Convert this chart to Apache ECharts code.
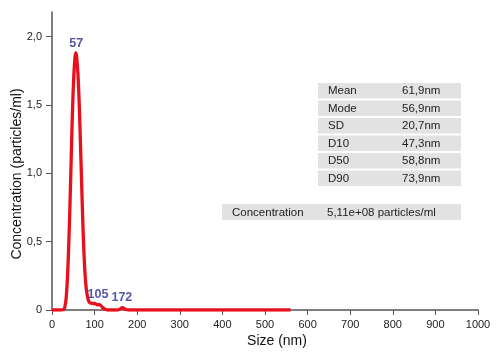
<!DOCTYPE html>
<html><head><meta charset="utf-8">
<script src="https://cdn.jsdelivr.net/npm/echarts@6/dist/echarts.min.js"></script>
<style>html,body{margin:0;padding:0;background:#fff}#c{width:500px;height:352px}</style>
</head><body><div id="c"></div>
<script>
// Size distribution curve (nm, concentration in 1e? particles/ml)
const sizeNm = [0,20,28,30,33,36,39,42,45,48,51,54,56,58,61,64,67,70,73,76,79,82,85,88,92,97,102,106,110,114,118,122,126,130,155,160,165,170,175,180,560];
const conc   = [0,0,0.005,0.02,0.08,0.22,0.45,0.75,1.1,1.45,1.7,1.85,1.88,1.85,1.72,1.5,1.2,0.88,0.58,0.35,0.2,0.12,0.075,0.055,0.05,0.048,0.045,0.038,0.04,0.035,0.02,0.01,0.004,0,0,0.008,0.018,0.01,0.002,0,0];
// Peak annotations
const peakX = [57,108,164];
const peakY = [1.88,0.04,0.018];
const peakLabels = ['57','105','172'];
// Y ticks
const yTicks = [0,0.5,1,1.5,2];
// Statistics table
const statNames = ['Mean','Mode','SD','D10','D50','D90'];
const statValues = ['61,9nm','56,9nm','20,7nm','47,3nm','58,8nm','73,9nm'];
const concName = 'Concentration';
const concValue = '5,11e+08 particles/ml';

const FONT = '"Liberation Sans", Arial, sans-serif';
const chart = echarts.init(document.getElementById('c'), null, {renderer:'canvas'});

const graphics = [];
const rowTops = [83,100.5,118,135.5,153,170.5];
statNames.forEach((n,i)=>{
  graphics.push({type:'rect', shape:{x:318,y:rowTops[i],width:143,height:15.5}, style:{fill:'#e2e2e2'}});
  graphics.push({type:'text', x:328, y:rowTops[i]+8, style:{text:n, font:'11.5px '+FONT, fill:'#222', textVerticalAlign:'middle'}});
  graphics.push({type:'text', x:402, y:rowTops[i]+8, style:{text:statValues[i], font:'11.5px '+FONT, fill:'#222', textVerticalAlign:'middle'}});
});
graphics.push({type:'rect', shape:{x:222,y:204,width:239,height:16}, style:{fill:'#e2e2e2'}});
graphics.push({type:'text', x:232, y:212.5, style:{text:concName, font:'11.5px '+FONT, fill:'#222', textVerticalAlign:'middle'}});
graphics.push({type:'text', x:327, y:212.5, style:{text:concValue, font:'11.5px '+FONT, fill:'#222', textVerticalAlign:'middle'}});
graphics.push({type:'text', x:17, y:174, rotation:Math.PI/2, style:{text:'Concentration (particles/ml)', font:'14px '+FONT, fill:'#111', textAlign:'center', textVerticalAlign:'middle'}});
graphics.push({type:'text', x:277, y:341, style:{text:'Size (nm)', font:'14px '+FONT, fill:'#111', textAlign:'center', textVerticalAlign:'middle'}});

chart.setOption({
  animation:false,
  grid:{left:52,right:22,top:12,bottom:42,containLabel:false},
  xAxis:{type:'value',min:0,max:1000,interval:100,
    axisLine:{show:true,onZero:false,lineStyle:{color:'#555',width:1.5}},
    axisTick:{show:true,length:5,lineStyle:{color:'#555'}},
    axisLabel:{color:'#222',fontSize:11,fontFamily:FONT,margin:9,formatter:v=>String(v)},
    splitLine:{show:false}},
  yAxis:{type:'value',min:0,max:2.18,interval:0.5,
    axisLine:{show:true,lineStyle:{color:'#555',width:1.5}},
    axisTick:{show:true,length:6,customValues:yTicks,lineStyle:{color:'#555'}},
    axisLabel:{color:'#222',fontSize:11,fontFamily:FONT,margin:10,customValues:yTicks,
      formatter:v=> v===0?'0':v.toFixed(1).replace('.',',')},
    splitLine:{show:false}},
  series:[
    {type:'line',data:sizeNm.map((x,i)=>[x,conc[i]]),smooth:0.3,showSymbol:false,
      lineStyle:{color:'#e8101c',width:3.3},z:3},
    {type:'scatter',data:peakX.map((x,i)=>[x,peakY[i]]),symbolSize:0,
      label:{show:true,position:'top',distance:3,color:'#2a2a90',fontSize:12.5,fontWeight:'bold',fontFamily:FONT,
        formatter:p=>peakLabels[p.dataIndex]},z:4}
  ],
  graphic:graphics
});
</script></body></html>
